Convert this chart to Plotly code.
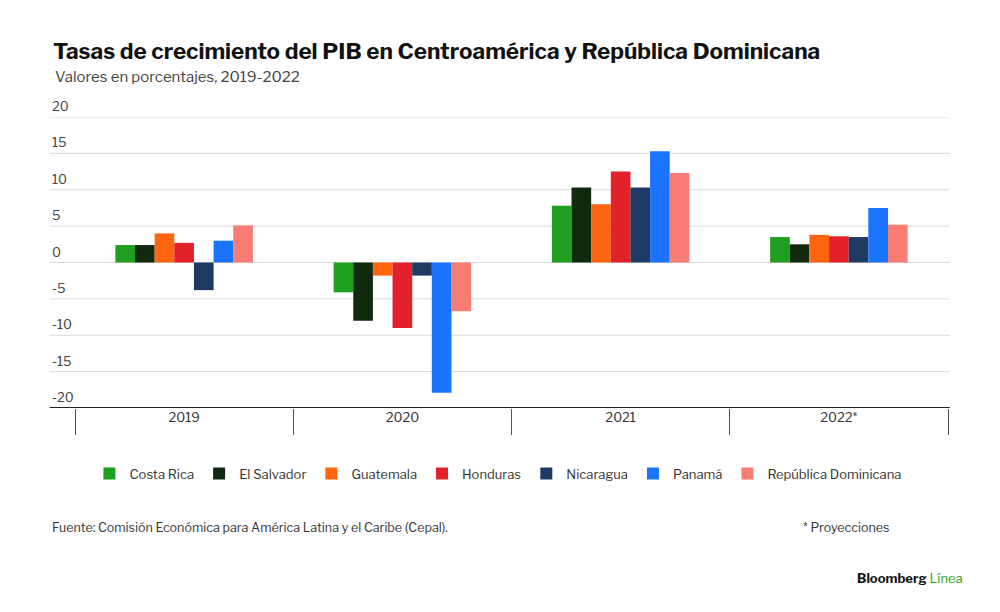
import plotly.graph_objects as go

years = ["2019", "2020", "2021", "2022*"]
countries = ["Costa Rica", "El Salvador", "Guatemala", "Honduras", "Nicaragua", "Panamá", "República Dominicana"]
colors = ["#1f9e1f", "#10290f", "#ff6411", "#e3212b", "#1e3a63", "#1b74ff", "#f77c73"]
costa_rica = [2.4, -4.1, 7.8, 3.5]
el_salvador = [2.4, -8.0, 10.3, 2.5]
guatemala = [4.0, -1.8, 8.0, 3.8]
honduras = [2.7, -9.0, 12.5, 3.6]
nicaragua = [-3.8, -1.8, 10.3, 3.5]
panama = [3.0, -17.9, 15.3, 7.5]
rep_dom = [5.1, -6.7, 12.3, 5.2]
series = [costa_rica, el_salvador, guatemala, honduras, nicaragua, panama, rep_dom]
yticks = [20, 15, 10, 5, 0, -5, -10, -15, -20]

fig = go.Figure()
for name, vals, c in zip(countries, series, colors):
    fig.add_bar(x=years, y=vals, name=name, marker_color=c, marker_line_width=0)

F = "Libre Franklin, Roboto, Arial"
shapes = []
for t in yticks:
    shapes.append(dict(type="line", xref="paper", yref="y", x0=-0.029, x1=1.002, y0=t, y1=t,
                       line=dict(color="#d9d9d9", width=1), layer="below"))
shapes.append(dict(type="line", xref="paper", yref="y", x0=-0.029, x1=1.002, y0=-20, y1=-20,
                   line=dict(color="#222", width=2)))
ann = [dict(xref="paper", yref="y", x=-0.029, y=t, text=str(t), showarrow=False, xanchor="left",
            yanchor="bottom", yshift=1, font=dict(size=13, color="#444", family=F)) for t in yticks]
ann += [
    dict(xref="paper", yref="paper", x=-0.029, y=0, yshift=-119, xanchor="left", yanchor="middle",
         text="Fuente: Comisión Económica para América Latina y el Caribe (Cepal).", showarrow=False,
         font=dict(size=12.5, color="#333", family=F)),
    dict(xref="paper", yref="paper", x=0.935, y=0, yshift=-119, xanchor="right", yanchor="middle",
         text="* Proyecciones", showarrow=False, font=dict(size=12.5, color="#333", family=F)),
    dict(xref="paper", yref="paper", x=1.02, y=0, yshift=-170, xanchor="right", yanchor="middle",
         text="<b>Bloomberg</b> <span style='color:#1f9e1f'>Línea</span>", showarrow=False,
         font=dict(size=13, color="#111", family=F)),
    dict(xref="paper", yref="paper", x=-0.025, y=1, yshift=40, xanchor="left", yanchor="middle",
         text="Valores en porcentajes, 2019-2022", showarrow=False,
         font=dict(size=15, color="#444", family=F)),
]

fig.update_layout(
    width=1000, height=612, barmode="group", bargap=0.37, bargroupgap=0,
    paper_bgcolor="white", plot_bgcolor="white",
    margin=dict(l=67, r=60, t=109, b=212),
    title=dict(text="<b>Tasas de crecimiento del PIB en Centroamérica y República Dominicana</b>",
               x=0.045, xanchor="left", y=0.93, yanchor="middle", font=dict(size=22.5, color="#111", family=F)),
    xaxis=dict(tickson="boundaries", ticks="outside", ticklen=26, tickcolor="#555", tickwidth=1,
               showline=False, tickfont=dict(size=13, color="#333", family=F), ticklabelstandoff=0),
    yaxis=dict(range=[-20, 20], showticklabels=False, showgrid=False, zeroline=False),
    legend=dict(orientation="h", x=0.485, xanchor="center", y=-0.225, yanchor="middle",
                font=dict(size=13, color="#333", family=F), itemwidth=30),
    shapes=shapes, annotations=ann,
)
fig.write_html("out.html")
